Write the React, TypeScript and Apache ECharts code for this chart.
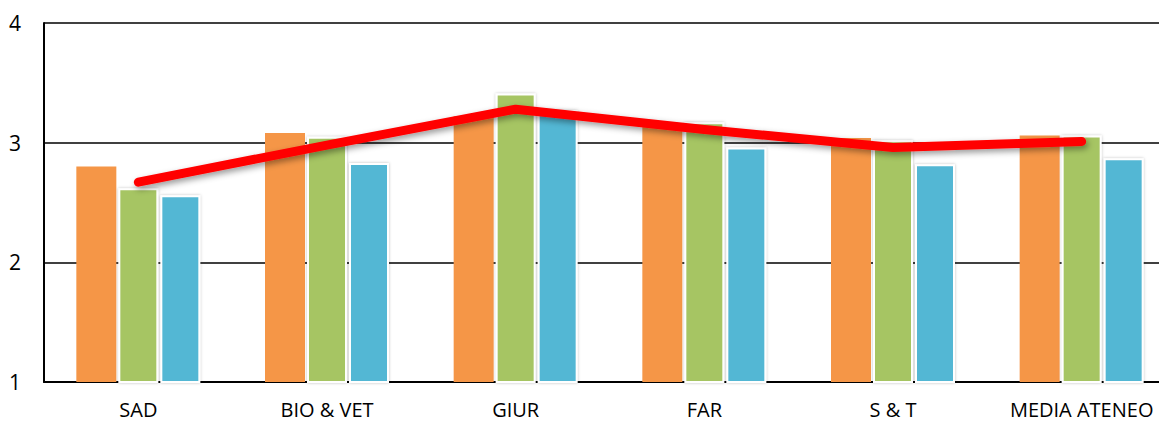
import React, { useEffect, useRef } from "react";
import * as echarts from "echarts";

const categories = ["SAD", "BIO & VET", "GIUR", "FAR", "S & T", "MEDIA ATENEO"];
const seriesOrange = [2.8, 3.08, 3.22, 3.15, 3.04, 3.06];
const seriesGreen = [2.62, 3.05, 3.41, 3.17, 3.02, 3.06];
const seriesBlue = [2.56, 2.83, 3.27, 2.96, 2.82, 2.87];
const seriesLine = [2.67, 2.98, 3.28, 3.11, 2.96, 3.01];
const yTicks = { min: 1, max: 4, interval: 1 };

export default function App() {
  const ref = useRef<HTMLDivElement>(null);
  useEffect(() => {
    if (!ref.current) return;
    const chart = echarts.init(ref.current, null, { renderer: "svg" });
    const font = "'Open Sans', 'Noto Sans', sans-serif";
    const barBorder = {
      borderColor: "#ffffff",
      borderWidth: 2,
      shadowBlur: 3,
      shadowColor: "rgba(0,0,0,0.25)",
    };
    chart.setOption({
      animation: false,
      grid: { left: 44, top: 23, bottom: 39, width: 1132 },
      xAxis: {
        type: "category",
        data: categories,
        axisLine: { show: true, lineStyle: { color: "#000", width: 2 } },
        axisTick: { show: false },
        axisLabel: { color: "#000", fontSize: 20, fontFamily: font, margin: 17 },
      },
      yAxis: {
        type: "value",
        min: yTicks.min,
        max: yTicks.max,
        interval: yTicks.interval,
        axisLine: { show: true, lineStyle: { color: "#000", width: 2 } },
        axisTick: { show: false },
        splitLine: { show: true, lineStyle: { color: "#000", width: 1.6 } },
        axisLabel: { color: "#000", fontSize: 21, fontFamily: font, margin: 23 },
      },
      series: [
        {
          type: "bar",
          data: seriesOrange,
          barWidth: 40,
          barGap: "5%",
          itemStyle: { color: "#F59647" },
        },
        {
          type: "bar",
          data: seriesGreen,
          barWidth: 40,
          barGap: "5%",
          itemStyle: { color: "#A6C563", ...barBorder },
        },
        {
          type: "bar",
          data: seriesBlue,
          barWidth: 40,
          barGap: "5%",
          itemStyle: { color: "#53B7D4", ...barBorder },
        },
        {
          type: "line",
          data: seriesLine,
          symbol: "none",
          z: 10,
          lineStyle: {
            color: "#FF0000",
            width: 9,
            cap: "round",
            join: "round",
            shadowBlur: 6,
            shadowColor: "rgba(0,0,0,0.4)",
            shadowOffsetY: 3,
            shadowOffsetX: 2,
          },
        },
      ],
    });
    return () => chart.dispose();
  }, []);
  return (
    <div style={{ width: 1159, height: 421, position: "absolute", left: 0, top: 0, overflow: "hidden" }}>
      <div ref={ref} style={{ width: 1180, height: 421 }} />
    </div>
  );
}
